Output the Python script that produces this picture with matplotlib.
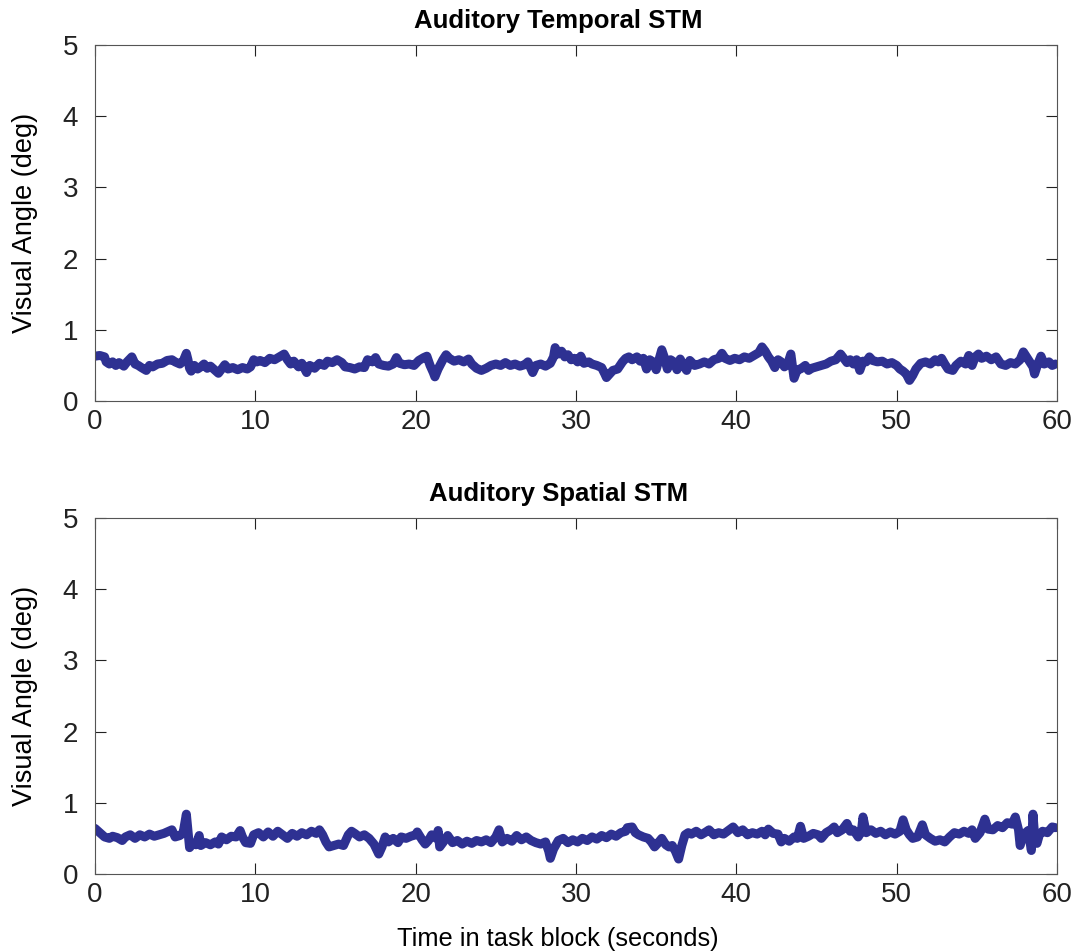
import matplotlib
matplotlib.use("Agg")
import matplotlib.pyplot as plt
from matplotlib import font_manager

titles = ["Auditory Temporal STM", "Auditory Spatial STM"]
ylabel = "Visual Angle (deg)"
xlabel = "Time in task block (seconds)"
xticks = [0, 10, 20, 30, 40, 50, 60]
yticks = [0, 1, 2, 3, 4, 5]

temporal_t = [0.0, 0.3, 0.6, 0.7, 0.9, 1.1, 1.3, 1.5, 1.8, 2.0, 2.3, 2.5, 2.7, 2.9, 3.2, 3.4, 3.6, 3.9,
              4.2, 4.5, 4.8, 5.0, 5.3, 5.5, 5.7, 5.8, 5.9, 6.0, 6.2, 6.4, 6.6, 6.8, 7.0, 7.2, 7.5, 7.7,
              7.9, 8.1, 8.3, 8.6, 8.9, 9.2, 9.5, 9.7, 9.9, 10.1, 10.3, 10.6, 10.9, 11.2, 11.5, 11.8,
              12.0, 12.2, 12.4, 12.7, 12.9, 13.2, 13.4, 13.7, 14.0, 14.3, 14.5, 14.8, 15.1, 15.4, 15.6,
              15.9, 16.2, 16.5, 16.8, 17.0, 17.3, 17.5, 17.7, 18.0, 18.3, 18.6, 18.8, 19.0, 19.3, 19.6,
              19.9, 20.2, 20.5, 20.7, 20.9, 21.1, 21.2, 21.4, 21.7, 21.9, 22.1, 22.4, 22.7, 23.0, 23.3,
              23.5, 23.8, 24.1, 24.4, 24.7, 25.0, 25.3, 25.6, 25.9, 26.2, 26.5, 26.8, 27.0, 27.3, 27.5,
              27.8, 28.1, 28.4, 28.6, 28.7, 28.9, 29.1, 29.3, 29.5, 29.7, 29.9, 30.1, 30.3, 30.5, 30.8,
              31.0, 31.3, 31.6, 31.8, 31.9, 32.1, 32.3, 32.6, 32.9, 33.1, 33.3, 33.5, 33.8, 34.0, 34.2,
              34.4, 34.6, 34.8, 35.0, 35.2, 35.35, 35.5, 35.7, 35.9, 36.1, 36.3, 36.5, 36.7, 36.9, 37.1,
              37.4, 37.7, 38.0, 38.3, 38.6, 38.9, 39.1, 39.3, 39.6, 39.9, 40.2, 40.5, 40.8, 41.1, 41.4,
              41.6, 41.8, 42.0, 42.2, 42.4, 42.6, 42.8, 43.0, 43.2, 43.4, 43.6, 43.8, 44.0, 44.3, 44.5,
              44.7, 45.0, 45.3, 45.6, 45.9, 46.2, 46.5, 46.7, 46.9, 47.1, 47.3, 47.5, 47.7, 47.9, 48.1,
              48.3, 48.5, 48.8, 49.1, 49.4, 49.7, 50.0, 50.2, 50.4, 50.6, 50.8, 51.0, 51.2, 51.5, 51.8,
              52.1, 52.4, 52.6, 52.8, 53.0, 53.2, 53.5, 53.7, 54.0, 54.3, 54.5, 54.7, 54.9, 55.1, 55.3,
              55.6, 55.9, 56.2, 56.5, 56.8, 57.1, 57.4, 57.7, 57.9, 58.1, 58.3, 58.5, 58.6, 58.8, 59.0,
              59.2, 59.5, 59.7, 59.9]
temporal_v = [0.63, 0.64, 0.62, 0.55, 0.52, 0.55, 0.50, 0.54, 0.49, 0.55, 0.62, 0.52, 0.50, 0.47, 0.43,
              0.50, 0.48, 0.52, 0.53, 0.57, 0.58, 0.55, 0.52, 0.56, 0.67, 0.58, 0.46, 0.42, 0.50, 0.45,
              0.48, 0.52, 0.46, 0.49, 0.43, 0.39, 0.45, 0.51, 0.45, 0.47, 0.44, 0.47, 0.45, 0.48, 0.58,
              0.55, 0.57, 0.54, 0.60, 0.58, 0.62, 0.66, 0.58, 0.52, 0.56, 0.48, 0.53, 0.40, 0.50, 0.46,
              0.53, 0.50, 0.56, 0.54, 0.58, 0.54, 0.48, 0.47, 0.45, 0.48, 0.47, 0.58, 0.55, 0.61, 0.52,
              0.50, 0.49, 0.52, 0.61, 0.53, 0.51, 0.52, 0.50, 0.57, 0.61, 0.63, 0.50, 0.40, 0.34, 0.45,
              0.58, 0.65, 0.60, 0.56, 0.58, 0.55, 0.59, 0.52, 0.46, 0.43, 0.46, 0.50, 0.52, 0.50, 0.54,
              0.50, 0.52, 0.49, 0.51, 0.55, 0.40, 0.50, 0.52, 0.49, 0.53, 0.62, 0.75, 0.66, 0.70, 0.62,
              0.65, 0.58, 0.60, 0.55, 0.63, 0.53, 0.55, 0.52, 0.50, 0.47, 0.38, 0.33, 0.38, 0.43, 0.45,
              0.55, 0.60, 0.62, 0.58, 0.62, 0.56, 0.60, 0.45, 0.58, 0.55, 0.44, 0.60, 0.72, 0.62, 0.45,
              0.58, 0.55, 0.44, 0.59, 0.50, 0.43, 0.57, 0.50, 0.52, 0.55, 0.52, 0.58, 0.60, 0.67, 0.60,
              0.57, 0.60, 0.58, 0.62, 0.60, 0.64, 0.68, 0.76, 0.70, 0.62, 0.56, 0.47, 0.58, 0.55, 0.48,
              0.52, 0.66, 0.32, 0.44, 0.45, 0.50, 0.43, 0.46, 0.48, 0.50, 0.52, 0.56, 0.58, 0.66, 0.60,
              0.54, 0.58, 0.52, 0.58, 0.43, 0.56, 0.55, 0.62, 0.57, 0.55, 0.56, 0.52, 0.54, 0.50, 0.45,
              0.42, 0.38, 0.29, 0.36, 0.45, 0.53, 0.55, 0.52, 0.58, 0.55, 0.60, 0.52, 0.45, 0.43, 0.50,
              0.56, 0.52, 0.64, 0.50, 0.62, 0.66, 0.60, 0.63, 0.58, 0.62, 0.52, 0.50, 0.54, 0.52, 0.58,
              0.69, 0.62, 0.55, 0.48, 0.38, 0.52, 0.63, 0.52, 0.55, 0.50, 0.52]

spatial_t = [0.0, 0.2, 0.4, 0.6, 0.9, 1.1, 1.4, 1.7, 1.9, 2.2, 2.5, 2.8, 3.1, 3.4, 3.7, 4.0, 4.3, 4.6,
             4.8, 5.0, 5.3, 5.5, 5.7, 5.8, 5.9, 6.1, 6.3, 6.5, 6.6, 6.9, 7.2, 7.5, 7.7, 7.9, 8.2, 8.5,
             8.8, 9.05, 9.2, 9.4, 9.7, 9.9, 10.2, 10.5, 10.8, 11.1, 11.4, 11.7, 12.0, 12.3, 12.6, 12.9,
             13.2, 13.5, 13.8, 14.0, 14.2, 14.4, 14.6, 14.9, 15.2, 15.5, 15.8, 16.0, 16.2, 16.5, 16.8,
             17.1, 17.4, 17.7, 17.9, 18.1, 18.3, 18.6, 18.9, 19.1, 19.4, 19.7, 20.0, 20.1, 20.4, 20.6,
             20.8, 21.0, 21.3, 21.4, 21.5, 21.7, 22.0, 22.3, 22.6, 22.9, 23.2, 23.5, 23.8, 24.1, 24.4,
             24.7, 25.0, 25.2, 25.4, 25.7, 26.0, 26.3, 26.6, 26.9, 27.2, 27.5, 27.8, 28.1, 28.3, 28.4,
             28.6, 28.9, 29.2, 29.5, 29.8, 30.1, 30.4, 30.7, 31.0, 31.3, 31.6, 31.9, 32.2, 32.5, 32.8,
             33.1, 33.2, 33.5, 33.7, 33.9, 34.2, 34.5, 34.7, 34.9, 35.1, 35.35, 35.6, 35.8, 36.0, 36.2,
             36.4, 36.6, 36.8, 37.0, 37.2, 37.5, 37.8, 38.1, 38.3, 38.6, 38.9, 39.2, 39.5, 39.8, 40.1,
             40.4, 40.7, 41.0, 41.3, 41.6, 41.8, 42.0, 42.3, 42.6, 42.8, 43.0, 43.3, 43.6, 43.8, 44.0,
             44.2, 44.5, 44.8, 45.1, 45.3, 45.6, 45.9, 46.1, 46.3, 46.6, 46.9, 47.1, 47.3, 47.6, 47.8,
             47.9, 48.1, 48.4, 48.7, 49.0, 49.3, 49.6, 49.9, 50.2, 50.4, 50.6, 50.8, 51.0, 51.3, 51.6,
             51.8, 52.1, 52.4, 52.7, 53.0, 53.3, 53.6, 53.9, 54.2, 54.5, 54.7, 54.9, 55.2, 55.5, 55.7,
             56.0, 56.3, 56.6, 56.9, 57.2, 57.4, 57.6, 57.7, 57.9, 58.2, 58.4, 58.5, 58.6, 58.75, 58.9,
             59.1, 59.4, 59.7, 59.9]
spatial_v = [0.64, 0.60, 0.56, 0.52, 0.50, 0.53, 0.51, 0.47, 0.52, 0.55, 0.50, 0.55, 0.52, 0.56, 0.53,
             0.55, 0.57, 0.60, 0.62, 0.52, 0.54, 0.58, 0.84, 0.60, 0.37, 0.43, 0.41, 0.54, 0.40, 0.44,
             0.41, 0.45, 0.42, 0.52, 0.48, 0.53, 0.52, 0.61, 0.52, 0.44, 0.43, 0.55, 0.58, 0.52, 0.59,
             0.53, 0.60, 0.55, 0.50, 0.57, 0.53, 0.58, 0.55, 0.60, 0.57, 0.62, 0.55, 0.45, 0.38, 0.40,
             0.42, 0.40, 0.55, 0.60, 0.57, 0.52, 0.55, 0.50, 0.42, 0.28, 0.38, 0.52, 0.45, 0.50, 0.44,
             0.52, 0.50, 0.53, 0.55, 0.59, 0.48, 0.42, 0.47, 0.55, 0.50, 0.61, 0.38, 0.44, 0.54, 0.44,
             0.47, 0.42, 0.46, 0.43, 0.47, 0.45, 0.48, 0.44, 0.52, 0.62, 0.45, 0.50, 0.46, 0.54, 0.48,
             0.52, 0.47, 0.44, 0.42, 0.45, 0.32, 0.22, 0.35, 0.47, 0.50, 0.44, 0.48, 0.45, 0.50, 0.47,
             0.52, 0.49, 0.54, 0.51, 0.56, 0.53, 0.58, 0.60, 0.65, 0.66, 0.58, 0.55, 0.52, 0.50, 0.45,
             0.38, 0.43, 0.50, 0.41, 0.38, 0.40, 0.32, 0.21, 0.40, 0.55, 0.58, 0.56, 0.60, 0.55, 0.59,
             0.62, 0.55, 0.58, 0.56, 0.61, 0.66, 0.58, 0.62, 0.55, 0.58, 0.56, 0.60, 0.55, 0.63, 0.57,
             0.56, 0.45, 0.50, 0.46, 0.52, 0.50, 0.67, 0.50, 0.53, 0.57, 0.55, 0.50, 0.58, 0.62, 0.66,
             0.58, 0.62, 0.71, 0.60, 0.62, 0.52, 0.60, 0.80, 0.58, 0.62, 0.57, 0.60, 0.55, 0.59, 0.56,
             0.60, 0.76, 0.62, 0.55, 0.50, 0.52, 0.69, 0.55, 0.50, 0.46, 0.48, 0.45, 0.52, 0.58, 0.56,
             0.60, 0.57, 0.62, 0.50, 0.58, 0.77, 0.63, 0.62, 0.68, 0.65, 0.72, 0.70, 0.80, 0.62, 0.40,
             0.55, 0.61, 0.33, 0.84, 0.55, 0.43, 0.55, 0.60, 0.58, 0.66, 0.65]

series = [(temporal_t, temporal_v), (spatial_t, spatial_v)]

avail = {f.name for f in font_manager.fontManager.ttflist}
fam = "Liberation Sans Narrow" if "Liberation Sans Narrow" in avail else "Liberation Sans"
plt.rcParams["font.family"] = [fam, "DejaVu Sans"]

line_color = "#2E3192"
fig = plt.figure(figsize=(10.73, 9.51), dpi=100)
rects = [[0.0885, 0.5783, 0.8966, 0.3743], [0.0885, 0.0810, 0.8966, 0.3743]]
for i, (rect, (t, v), title) in enumerate(zip(rects, series, titles)):
    ax = fig.add_axes(rect)
    ax.plot(t, v, color=line_color, lw=6.5, solid_capstyle="round", solid_joinstyle="round")
    ax.set_xlim(0, 60)
    ax.set_ylim(0, 5)
    ax.set_xticks(xticks)
    ax.set_yticks(yticks)
    ax.tick_params(direction="in", top=True, right=True, length=8, width=0.8,
                   labelsize=20, colors="#222222")
    ax.tick_params(axis="x", pad=6)
    ax.tick_params(axis="y", pad=12)
    for s in ax.spines.values():
        s.set_color("#555555")
        s.set_linewidth(0.8)
    ax.set_title(title, fontsize=18.5, fontweight="bold", family=["Liberation Sans", "DejaVu Sans"],
                 pad=12, x=0.482)
    ax.set_ylabel(ylabel, fontsize=19.5, labelpad=18)
    if i == 1:
        ax.set_xlabel(xlabel, fontsize=18.3)
        ax.xaxis.set_label_coords(0.481, -0.148)

fig.savefig("out.png", dpi=100)
